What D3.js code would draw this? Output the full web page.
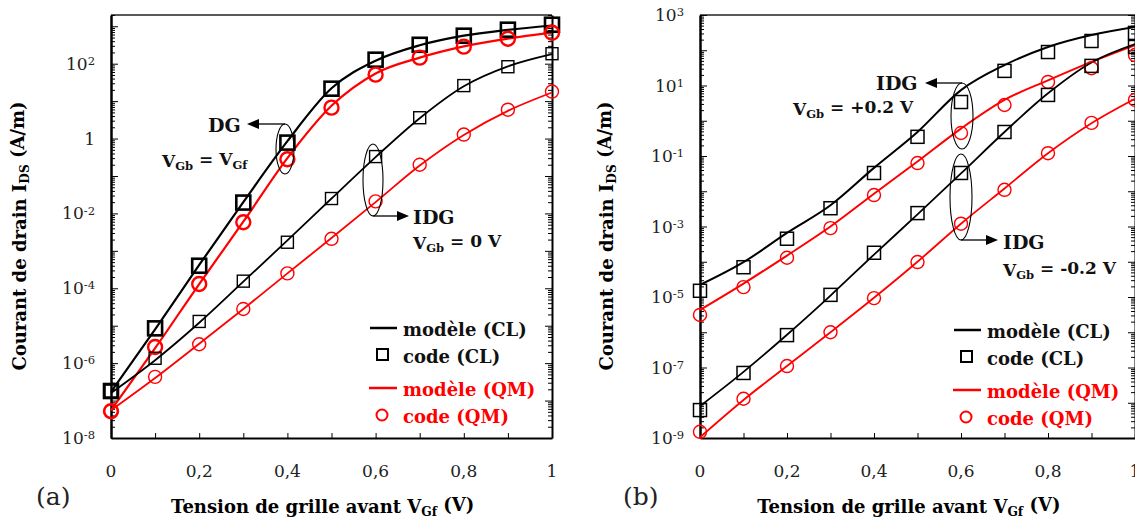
<!DOCTYPE html>
<html><head><meta charset="utf-8">
<script src="https://cdn.jsdelivr.net/npm/d3@7"></script>
<style>
body{margin:0;background:#fff}
svg{display:block}
text{font-family:"DejaVu Serif","Liberation Serif",serif}
</style>
</head><body>
<svg id="chart" width="1135" height="519"></svg>
<script>
// ---------- data ----------
const vgf = [0,0.1,0.2,0.3,0.4,0.5,0.6,0.7,0.8,0.9,1.0];
const xTickLabels = [0,0.2,0.4,0.6,0.8,1];

// panel (a) : DG (VGb = VGf) and IDG (VGb = 0 V)
const aDgModelCL  = [1.7e-7, 8.0e-6, 4.2e-4, 2.0e-2, 0.85, 22, 120, 310, 560, 800, 1050];
const aDgCodeCL   = [1.8e-7, 8.5e-6, 4.0e-4, 1.95e-2, 0.78, 21.5, 128, 320, 560, 810, 1100];
const aDgModelQM  = [5.5e-8, 2.5e-6, 1.3e-4, 6.0e-3, 0.30, 7.5, 55, 145, 290, 470, 680];
const aDgCodeQM   = [5.2e-8, 2.7e-6, 1.3e-4, 5.8e-3, 0.28, 6.7, 51, 145, 285, 465, 670];
const aIdgModelCL = [1.6e-7, 1.2e-6, 1.2e-5, 1.5e-4, 1.9e-3, 0.025, 0.32, 3.5, 25, 85, 180];
const aIdgCodeCL  = [1.8e-7, 1.35e-6, 1.3e-5, 1.55e-4, 1.7e-3, 0.025, 0.33, 3.6, 26, 83, 185];
const aIdgModelQM = [5.5e-8, 4.0e-7, 3.3e-6, 2.8e-5, 2.5e-4, 2.2e-3, 0.02, 0.19, 1.25, 5.5, 17];
const aIdgCodeQM  = [5.2e-8, 4.3e-7, 3.2e-6, 2.8e-5, 2.5e-4, 2.1e-3, 0.021, 0.2, 1.28, 5.9, 18];
const aYLabels = [-8,-6,-4,-2,0,2];

// panel (b) : IDG VGb = +0.2 V and IDG VGb = -0.2 V
const bPlusModelCL  = [2.2e-5, 9.7e-5, 6.6e-4, 4.0e-3, 0.046, 0.48, 7.4, 38, 124, 270, 457];
const bPlusCodeCL   = [1.5e-5, 7.0e-5, 4.5e-4, 3.3e-3, 0.033, 0.35, 3.4, 26, 89, 183, 310];
const bPlusModelQM  = [4.3e-6, 2.4e-5, 1.5e-4, 1.0e-3, 8.5e-3, 0.07, 0.6, 3.9, 14, 47, 140];
const bPlusCodeQM   = [3.1e-6, 1.9e-5, 1.3e-4, 9.0e-4, 7.8e-3, 0.063, 0.45, 2.8, 12.6, 31, 73];
const bMinusModelCL = [8.0e-9, 7.5e-8, 8.5e-7, 1.1e-5, 1.6e-4, 2.2e-3, 0.032, 0.48, 6.0, 45, 150];
const bMinusCodeCL  = [6.2e-9, 7.0e-8, 8.3e-7, 1.15e-5, 1.8e-4, 2.4e-3, 0.033, 0.48, 5.4, 36, 124];
const bMinusModelQM = [1.05e-9, 1.2e-8, 1.1e-7, 1.0e-6, 9.5e-6, 1.0e-4, 1.2e-3, 0.012, 0.12, 0.85, 4.2];
const bMinusCodeQM  = [1.5e-9, 1.3e-8, 1.1e-7, 1.0e-6, 9.3e-6, 9.8e-5, 1.2e-3, 0.011, 0.12, 0.87, 3.9];
const bYLabels = [-9,-7,-5,-3,-1,1,3];

const legendLabels = ["modèle (CL)","code (CL)","modèle (QM)","code (QM)"];
const RED = "#ff0000";

// ---------- helpers ----------
const svg = d3.select("#chart");

function rich(t, parts){
  let off = 0;
  parts.forEach(([s,kind])=>{
    const ts = t.append("tspan").text(s);
    let target = 0;
    if(kind==="sub") target = 0.28; else if(kind==="sup") target = -0.42;
    const fs = kind ? 0.68 : 1;
    // dy expressed in px of parent font
    ts.attr("dy", (target-off)+"em");
    if(kind) ts.attr("font-size", fs+"em");
    off = target;
  });
  return t;
}

function panel(opt){
  const g = svg.append("g");
  const x = d3.scaleLinear([0,1],[opt.x0,opt.x1]);
  const y = d3.scaleLog([opt.ymin,opt.ymax],[438,15]);
  const lo = Math.round(Math.log10(opt.ymin)), hi = Math.ceil(Math.log10(opt.ymax));
  const majors=[], minors=[];
  for(let e=lo;e<=hi;e++){
    const b = Math.pow(10,e);
    if(b>=opt.ymin*0.999 && b<=opt.ymax*1.001) majors.push(b);
    for(let k=2;k<=9;k++){ const v=k*b; if(v>=opt.ymin && v<=opt.ymax) minors.push(v); }
  }
  // top border
  g.append("line").attr("x1",opt.x0).attr("x2",opt.x1).attr("y1",15).attr("y2",15)
    .attr("stroke","#5a5a5a").attr("stroke-width",2);
  // left axis (ticks inward)
  const styleAx = s=>{ s.selectAll("path,line").attr("stroke","#000"); s.selectAll("text").remove(); };
  g.append("g").attr("transform",`translate(${opt.x0},0)`)
    .call(d3.axisRight(y).tickValues(majors).tickSize(7).tickSizeOuter(0).tickFormat(""))
    .call(styleAx).call(s=>s.select(".domain").attr("stroke-width",2.5));
  g.append("g").attr("transform",`translate(${opt.x0},0)`)
    .call(d3.axisRight(y).tickValues(minors).tickSize(4).tickSizeOuter(0).tickFormat(""))
    .call(styleAx).call(s=>s.select(".domain").remove());
  // right axis (ticks inward)
  g.append("g").attr("transform",`translate(${opt.x1},0)`)
    .call(d3.axisLeft(y).tickValues(majors).tickSize(7).tickSizeOuter(0).tickFormat(""))
    .call(styleAx).call(s=>s.select(".domain").attr("stroke-width",2));
  g.append("g").attr("transform",`translate(${opt.x1},0)`)
    .call(d3.axisLeft(y).tickValues(minors).tickSize(4).tickSizeOuter(0).tickFormat(""))
    .call(styleAx).call(s=>s.select(".domain").remove());
  // bottom axis (ticks inward)
  g.append("g").attr("transform",`translate(0,438)`)
    .call(d3.axisTop(x).tickValues(vgf).tickSize(5).tickSizeOuter(0).tickFormat(""))
    .call(styleAx).call(s=>s.select(".domain").attr("stroke-width",2));
  // y labels
  opt.yLabels.forEach(e=>{
    const t = g.append("text").attr("x",opt.x0-16).attr("y",y(Math.pow(10,e))+6)
      .attr("text-anchor","end").attr("font-size",17).attr("fill","#222");
    if(e===0) t.text("1"); else rich(t,[["10",null],[String(e),"sup"]]);
  });
  // x labels
  xTickLabels.forEach(v=>{
    g.append("text").attr("x",x(v)).attr("y",477).attr("text-anchor","middle")
      .attr("font-size",17).attr("fill","#222").text(String(v).replace(".",","));
  });
  // axis titles
  rich(g.append("text").attr("x",(opt.x0+opt.x1)/2 - (opt.x1-opt.x0)*0.02).attr("y",513)
     .attr("text-anchor","middle").attr("font-size",18).attr("font-weight","bold"),
     [["Tension de grille avant V",null],["Gf","sub"],[" (V)",null]]);
  rich(g.append("text").attr("transform",`translate(${opt.yTitleX},236) rotate(-90)`)
     .attr("text-anchor","middle").attr("font-size",18).attr("font-weight","bold"),
     [["Courant de drain I",null],["DS","sub"],[" (A/m)",null]]);
  g.append("text").attr("x",opt.tagX).attr("y",505).attr("font-size",25).attr("fill","#222").text(opt.tag);

  // curves
  const line = d3.line().x((d,i)=>x(vgf[i])).y(d=>y(d)).curve(d3.curveMonotoneX);
  const clip = opt.clipId;
  svg.append("clipPath").attr("id",clip).append("rect")
    .attr("x",opt.x0-10).attr("y",0).attr("width",opt.x1-opt.x0+20).attr("height",450);
  const pg = g.append("g").attr("clip-path",`url(#${clip})`);
  opt.series.forEach(s=>{
    pg.append("path").attr("d",line(s.model)).attr("fill","none")
      .attr("stroke",s.color).attr("stroke-width",s.lw);
  });
  opt.series.forEach(s=>{
    s.code.forEach((v,i)=>{
      if(s.shape==="sq"){
        pg.append("rect").attr("x",x(vgf[i])-s.size/2).attr("y",y(v)-s.size/2)
          .attr("width",s.size).attr("height",s.size).attr("fill","none")
          .attr("stroke",s.color).attr("stroke-width",s.mw);
      } else {
        pg.append("circle").attr("cx",x(vgf[i])).attr("cy",y(v)).attr("r",s.size/2)
          .attr("fill","none").attr("stroke",s.color).attr("stroke-width",s.mw);
      }
    });
  });
  // legend
  const L = opt.legend;
  const rows = [L.y, L.y+27, L.y+60, L.y+87];
  g.append("line").attr("x1",L.x-33).attr("x2",L.x-6).attr("y1",rows[0]-8).attr("y2",rows[0]-8)
    .attr("stroke","#000").attr("stroke-width",2.5);
  g.append("rect").attr("x",L.x-26).attr("y",rows[1]-14).attr("width",11).attr("height",11)
    .attr("fill","none").attr("stroke","#000").attr("stroke-width",2);
  g.append("line").attr("x1",L.x-34).attr("x2",L.x-6).attr("y1",rows[2]-8).attr("y2",rows[2]-8)
    .attr("stroke",RED).attr("stroke-width",2.5);
  g.append("circle").attr("cx",L.x-21).attr("cy",rows[3]-8).attr("r",5.5)
    .attr("fill","none").attr("stroke",RED).attr("stroke-width",2);
  legendLabels.forEach((t,i)=>{
    g.append("text").attr("x",L.x).attr("y",rows[i]).attr("font-size",18).attr("font-weight","bold")
      .attr("fill", i<2 ? "#111" : RED).text(t);
  });
  return {g,x,y};
}

function ellipse(g,cx,cy,rx,ry){
  g.append("ellipse").attr("cx",cx).attr("cy",cy).attr("rx",rx).attr("ry",ry)
    .attr("fill","none").attr("stroke","#000").attr("stroke-width",1.1);
}
function arrow(g,x1,y,x2){
  const dir = Math.sign(x2-x1);
  g.append("line").attr("x1",x1).attr("x2",x2-dir*9).attr("y1",y).attr("y2",y)
    .attr("stroke","#000").attr("stroke-width",1.3);
  g.append("path").attr("d",`M${x2},${y} L${x2-dir*12},${y-5} L${x2-dir*12},${y+5} Z`).attr("fill","#000");
}
function label(g,xp,yp,parts,size){
  rich(g.append("text").attr("x",xp).attr("y",yp).attr("font-size",size||18)
    .attr("font-weight","bold").attr("fill","#111"), parts);
}

// ---------- panel (a) ----------
const A = panel({
  x0:111, x1:552, ymin:1e-8, ymax:2000, yLabels:aYLabels, yTitleX:26, tag:"(a)", tagX:36, clipId:"clipA",
  legend:{x:403, y:336},
  series:[
    {model:aDgModelCL, code:aDgCodeCL, color:"#000", lw:2.2, shape:"sq", size:14, mw:2.6},
    {model:aDgModelQM, code:aDgCodeQM, color:RED, lw:2.2, shape:"ci", size:14, mw:2.4},
    {model:aIdgModelCL, code:aIdgCodeCL, color:"#000", lw:1.8, shape:"sq", size:12, mw:1.4},
    {model:aIdgModelQM, code:aIdgCodeQM, color:RED, lw:1.8, shape:"ci", size:13, mw:1.4}
  ]
});
ellipse(A.g, 285, 149, 9, 25);
arrow(A.g, 285, 124, 247);
label(A.g, 208, 132, [["DG",null]], 19);
label(A.g, 162, 167, [["V",null],["Gb","sub"],[" = V",null],["Gf","sub"]], 17);
ellipse(A.g, 373, 180, 10, 36);
arrow(A.g, 373, 216, 409);
label(A.g, 413, 224, [["IDG",null]], 19);
label(A.g, 413, 249, [["V",null],["Gb","sub"],[" = 0 V",null]], 17);

// ---------- panel (b) ----------
const B = panel({
  x0:700, x1:1135, ymin:1e-9, ymax:1e3, yLabels:bYLabels, yTitleX:613, tag:"(b)", tagX:623, clipId:"clipB",
  legend:{x:987, y:338},
  series:[
    {model:bPlusModelCL, code:bPlusCodeCL, color:"#000", lw:2, shape:"sq", size:13, mw:1.5},
    {model:bPlusModelQM, code:bPlusCodeQM, color:RED, lw:2, shape:"ci", size:13, mw:1.4},
    {model:bMinusModelCL, code:bMinusCodeCL, color:"#000", lw:1.8, shape:"sq", size:13, mw:1.5},
    {model:bMinusModelQM, code:bMinusCodeQM, color:RED, lw:1.8, shape:"ci", size:13, mw:1.4}
  ]
});
ellipse(B.g, 962, 116, 11, 33);
arrow(B.g, 962, 83, 925);
label(B.g, 876, 90, [["IDG",null]], 19);
label(B.g, 793, 115, [["V",null],["Gb","sub"],[" = +0.2 V",null]], 17);
ellipse(B.g, 961, 197, 11, 43);
arrow(B.g, 961, 240, 998);
label(B.g, 1003, 249, [["IDG",null]], 19);
label(B.g, 1003, 276, [["V",null],["Gb","sub"],[" = -0.2 V",null]], 17);
</script>
</body></html>
